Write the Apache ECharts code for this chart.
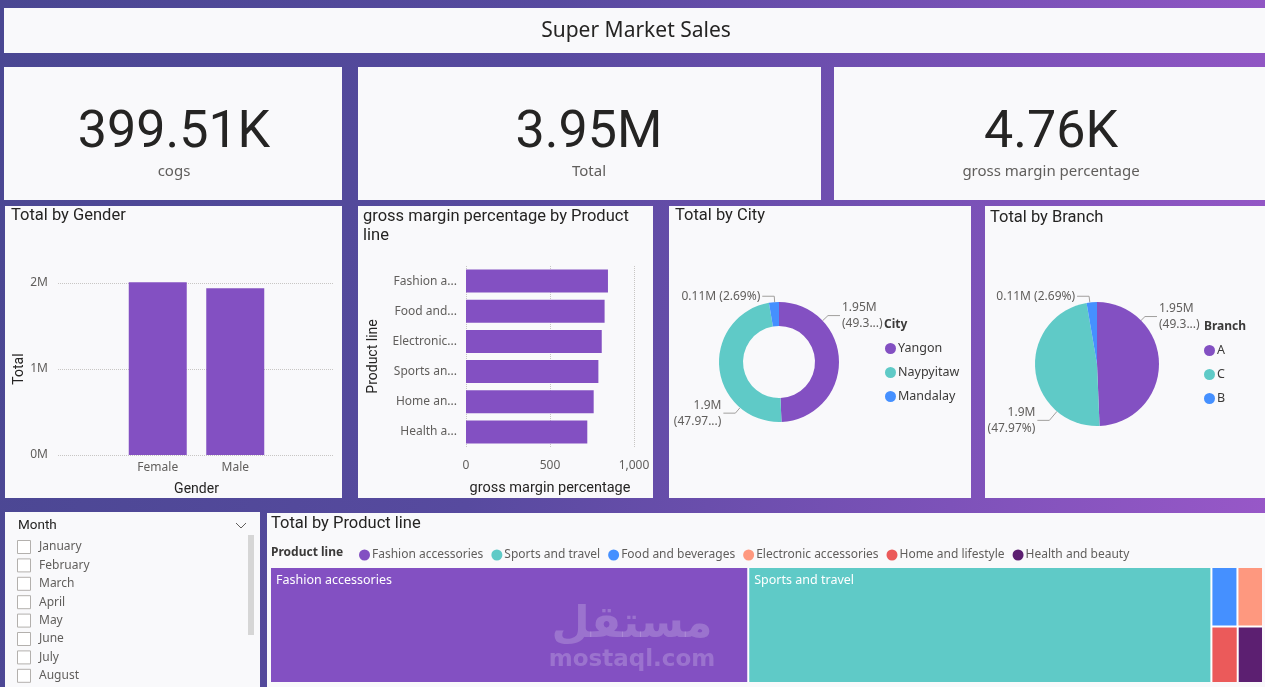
<!DOCTYPE html>
<html>
<head>
<meta charset="utf-8">
<title>Super Market Sales</title>
<script src="https://cdn.jsdelivr.net/npm/echarts@6/dist/echarts.min.js"></script>
<style>
html, body { margin: 0; padding: 0; width: 1265px; height: 687px; overflow: hidden; }
body { background: linear-gradient(100deg, #4a4792 0%, #574a9f 40%, #7d52b9 75%, #9a58c9 100%); }
#main { width: 1265px; height: 687px; }
</style>
</head>
<body>
<div id="main"></div>
<script>
// values
const kpiValues = ['399.51K', '3.95M', '4.76K'];
const kpiLabels = ['cogs', 'Total', 'gross margin percentage'];

const genders = ['Female', 'Male'];
const genderTotals = [2.01, 1.94]; // millions
const genderTicks = [0, 1, 2];

const productLines = ['Fashion accessories', 'Food and beverages', 'Electronic accessories', 'Sports and travel', 'Home and lifestyle', 'Health and beauty'];
const grossMargin = [845, 825, 808, 788, 760, 722];

const cities = ['Yangon', 'Naypyitaw', 'Mandalay'];
const cityTotals = [1.949, 1.895, 0.1063]; // millions

const branches = ['A', 'C', 'B'];
const branchTotals = [1.949, 1.895, 0.1063]; // millions

const treeLines = ['Fashion accessories', 'Sports and travel', 'Food and beverages', 'Electronic accessories', 'Home and lifestyle', 'Health and beauty'];
const treeTotals = [1.90, 1.84, 0.053, 0.052, 0.051, 0.049]; // millions

const months = ['January', 'February', 'March', 'April', 'May', 'June', 'July', 'August'];

const palette = ['#8350C2', '#5FCAC7', '#4590FF', '#FE987F', '#EB5A5A', '#5C1F71'];
const panelFill = '#F9F9FB';
const dark = '#252423';
const grey = '#605E5C';
const uiFont = '"Segoe UI", "Noto Sans", sans-serif';
const dinFont = 'Roboto, sans-serif';

// how Power BI squeezed the pie labels (chars of the percent kept, one line or two)
const cityPctChars = [4, 5, 0];
const branchPctChars = [4, 0, 0];
const pieOneLine = [false, false, true];
const cityLabelShift = [[-18, -45], [23, 44], [0, 2]];
const branchLabelShift = [[-21, -46], [21, 49], [-3, 2]];
const cityCenter = [779, 362], cityRadius = [36, 60];
const branchCenter = [1097, 364], branchRadius = [0, 62];

function fmtM(v) {
	return String(parseFloat(v.toFixed(2))) + 'M';
}

function panel(x, y, w, h) {
	return { type: 'rect', z: 0, shape: { x: x, y: y, width: w, height: h }, style: { fill: panelFill } };
}

function txt(text, x, y, font, fill, align, extra) {
	let style = { text: text, x: 0, y: 0, font: font, fill: fill, align: align || 'left', verticalAlign: 'middle' };
	if (extra) Object.assign(style, extra);
	return { type: 'text', z: 5, x: x, y: y, style: style };
}

function pieLabel(pctChars) {
	return function (p) {
		let pct = p.percent.toFixed(2) + '%';
		let keep = pctChars[p.dataIndex];
		if (keep) pct = pct.slice(0, keep) + '...';
		let sep = pieOneLine[p.dataIndex] ? ' ' : '\n';
		return fmtM(p.value) + sep + '(' + pct + ')';
	};
}

// move the labels where Power BI put them and redraw the leader lines
function pieLayout(shifts, center, radius) {
	return function (p) {
		let s = shifts[p.dataIndex];
		let r = p.labelRect;
		let x = r.x + s[0], y = r.y + s[1];
		let midY = y + r.height / 2;
		let onRight = x + r.width / 2 > center[0];
		let ax = onRight ? x - 2 : x + r.width + 2;
		let ex = onRight ? ax - 12 : ax + 12;
		let vx = ex - center[0], vy = midY - center[1];
		let len = Math.sqrt(vx * vx + vy * vy);
		let p1 = [center[0] + radius[1] * vx / len, center[1] + radius[1] * vy / len];
		return { dx: s[0], dy: s[1], labelLinePoints: [p1, [ex, midY], [ax, midY]] };
	};
}

let graphics = [
	panel(4, 8, 1261, 45),
	panel(4, 67, 338, 133),
	panel(358, 67, 463, 133),
	panel(834, 67, 431, 133),
	panel(5, 206, 337, 292),
	panel(358, 206, 295, 292),
	panel(669, 206, 302, 292),
	panel(985, 206, 280, 292),
	panel(5, 512, 255, 175),
	panel(267, 513, 998, 174),
	txt('Super Market Sales', 636, 31, '21px ' + uiFont, dark, 'center'),
	txt('Total by Gender', 11, 216, '16.5px ' + dinFont, dark),
	txt('gross margin percentage by Product\nline', 363, 217, '16.5px ' + dinFont, dark, 'left', { lineHeight: 19, verticalAlign: 'top', y: -10 }),
	txt('Total by City', 675, 216, '16.5px ' + dinFont, dark),
	txt('Total by Branch', 990, 218, '16.5px ' + dinFont, dark),
	txt('City', 884, 325, 'bold 12px ' + uiFont, '#3b3a39'),
	txt('Branch', 1204, 327, 'bold 12px ' + uiFont, '#3b3a39'),
	txt('Total by Product line', 271, 524, '16.5px ' + dinFont, dark),
	txt('Product line', 271, 553, 'bold 12px ' + uiFont, '#3b3a39'),
	txt('Month', 18, 526, '13.5px ' + dinFont, dark),
	{ type: 'polyline', z: 5, shape: { points: [[236, 523], [241, 528], [246, 523]] }, style: { stroke: grey, lineWidth: 1, fill: null } },
	{ type: 'rect', z: 5, shape: { x: 248, y: 535, width: 6, height: 100 }, style: { fill: '#D6D6D6' } }
];

let watermark = [
	txt('مستقل', 632, 626, 'bold 44px "DejaVu Sans", sans-serif', 'rgba(255,255,255,0.2)', 'center'),
	txt('mostaql.com', 632, 660, 'bold 23px "DejaVu Sans", sans-serif', 'rgba(255,255,255,0.2)', 'center')
];
watermark.forEach(el => { el.z = 100; graphics.push(el); });

let kpiCenters = [174, 589, 1051];
for (let i = 0; i < kpiValues.length; i++) {
	graphics.push(txt(kpiValues[i], kpiCenters[i], 134, '52px ' + dinFont, dark, 'center'));
	graphics.push(txt(kpiLabels[i], kpiCenters[i], 172, '15px ' + uiFont, grey, 'center'));
}

for (let i = 0; i < months.length; i++) {
	let y = 547 + i * 18.4;
	graphics.push({ type: 'rect', z: 5, shape: { x: 17.5, y: y - 6.5, width: 13, height: 13 }, style: { fill: '#fff', stroke: '#B3B0AD', lineWidth: 1 } });
	graphics.push(txt(months[i], 39, y, '12px ' + uiFont, grey));
}

let dotted = { show: true, lineStyle: { type: 'dotted', color: '#C8C6C4', width: 1 } };
let axisLabelStyle = { color: grey, fontSize: 12, fontFamily: uiFont };
let axisNameStyle = { color: dark, fontSize: 14, fontFamily: dinFont };
let pieLabelStyle = { color: grey, fontSize: 12, fontFamily: uiFont, lineHeight: 16 };

let option = {
	animation: false,
	backgroundColor: 'transparent',
	graphic: { elements: graphics },
	grid: [
		{ left: 58, top: 283, width: 275, height: 172 },
		{ left: 119, top: 283, width: 155, height: 172 },
		{ left: 466, top: 266, width: 168, height: 181 }
	],
	xAxis: [
		{ gridIndex: 0, type: 'value', show: false, min: 0, max: 1 },
		{
			gridIndex: 1, type: 'category', data: genders,
			axisLine: { show: false }, axisTick: { show: false },
			axisLabel: Object.assign({ margin: 7 }, axisLabelStyle),
			name: 'Gender', nameLocation: 'middle', nameGap: 27, nameTextStyle: axisNameStyle
		},
		{
			gridIndex: 2, type: 'value', min: 0, max: 1000, interval: 500,
			axisLine: { show: false }, axisTick: { show: false }, splitLine: dotted,
			axisLabel: Object.assign({ margin: 13, formatter: v => v.toLocaleString('en-US') }, axisLabelStyle),
			name: 'gross margin percentage', nameLocation: 'middle', nameGap: 34, nameTextStyle: Object.assign({}, axisNameStyle, { fontSize: 14.5 })
		}
	],
	yAxis: [
		{
			gridIndex: 0, type: 'value', min: genderTicks[0], max: genderTicks[genderTicks.length - 1], interval: 1,
			axisLine: { show: false }, axisTick: { show: false }, splitLine: dotted,
			axisLabel: Object.assign({ margin: 10, formatter: v => v + 'M' }, axisLabelStyle),
			name: 'Total', nameLocation: 'middle', nameGap: 31, nameTextStyle: axisNameStyle
		},
		{ gridIndex: 1, type: 'value', show: false, min: 0, max: 2 },
		{
			gridIndex: 2, type: 'category', data: productLines, inverse: true,
			axisLine: { show: false }, axisTick: { show: false },
			axisLabel: Object.assign({ margin: 9, width: 66, overflow: 'truncate', ellipsis: '...' }, axisLabelStyle),
			name: 'Product line', nameLocation: 'middle', nameGap: 86, nameTextStyle: axisNameStyle
		}
	],
	legend: [
		{
			data: cities, orient: 'vertical', left: 880, top: 337, icon: 'circle',
			itemWidth: 11, itemHeight: 11, itemGap: 11,
			textStyle: { color: '#3b3a39', fontSize: 12.5, fontFamily: uiFont, padding: [0, 0, 0, -3] }
		},
		{
			data: branches, orient: 'vertical', left: 1199, top: 339, icon: 'circle',
			itemWidth: 11, itemHeight: 11, itemGap: 11,
			textStyle: { color: '#3b3a39', fontSize: 12.5, fontFamily: uiFont, padding: [0, 0, 0, -3] }
		},
		{
			data: treeLines, orient: 'horizontal', left: 354, top: 544, icon: 'circle',
			itemWidth: 11, itemHeight: 11, itemGap: 8,
			textStyle: { color: grey, fontSize: 12, fontFamily: uiFont, padding: [0, 0, 0, -3] }
		}
	],
	series: [
		{
			type: 'bar', xAxisIndex: 1, yAxisIndex: 1, data: genderTotals, barWidth: 58, clip: false,
			itemStyle: { color: palette[0] }
		},
		{
			type: 'bar', xAxisIndex: 2, yAxisIndex: 2, data: grossMargin, barWidth: 23,
			itemStyle: { color: palette[0] }
		},
		{
			type: 'pie', name: 'City', center: cityCenter, radius: cityRadius, startAngle: 90,
			data: cities.map((n, i) => ({ name: n, value: cityTotals[i], itemStyle: { color: palette[i] } })),
			label: Object.assign({ formatter: pieLabel(cityPctChars) }, pieLabelStyle),
			labelLine: { length: 8, length2: 8, lineStyle: { color: '#A19F9D' } },
			labelLayout: pieLayout(cityLabelShift, cityCenter, cityRadius)
		},
		{
			type: 'pie', name: 'Branch', center: branchCenter, radius: branchRadius, startAngle: 90,
			data: branches.map((n, i) => ({ name: n, value: branchTotals[i], itemStyle: { color: palette[i] } })),
			label: Object.assign({ formatter: pieLabel(branchPctChars) }, pieLabelStyle),
			labelLine: { length: 8, length2: 8, lineStyle: { color: '#A19F9D' } },
			labelLayout: pieLayout(branchLabelShift, branchCenter, branchRadius)
		},
		{
			// only feeds the product line legend
			type: 'pie', silent: true, center: [-200, -200], radius: [0, 0],
			data: treeLines.map((n, i) => ({ name: n, value: treeTotals[i], itemStyle: { color: palette[i] } })),
			label: { show: false }, labelLine: { show: false }
		},
		{
			type: 'treemap', left: 271, top: 568, width: 991, height: 114,
			roam: false, nodeClick: false, breadcrumb: { show: false },
			itemStyle: { gapWidth: 2, borderWidth: 0 },
			levels: [{ itemStyle: { gapWidth: 2, borderWidth: 0 } }],
			label: { show: true, position: 'insideTopLeft', color: '#fff', fontSize: 12.5, fontFamily: uiFont, padding: [6, 5] },
			data: treeLines.map((n, i) => ({
				name: n, value: treeTotals[i],
				itemStyle: { color: palette[i] },
				label: { show: treeTotals[i] > 0.5 }
			}))
		}
	]
};

let chart = echarts.init(document.getElementById('main'), null, { renderer: 'canvas' });
chart.setOption(option);
</script>
</body>
</html>
